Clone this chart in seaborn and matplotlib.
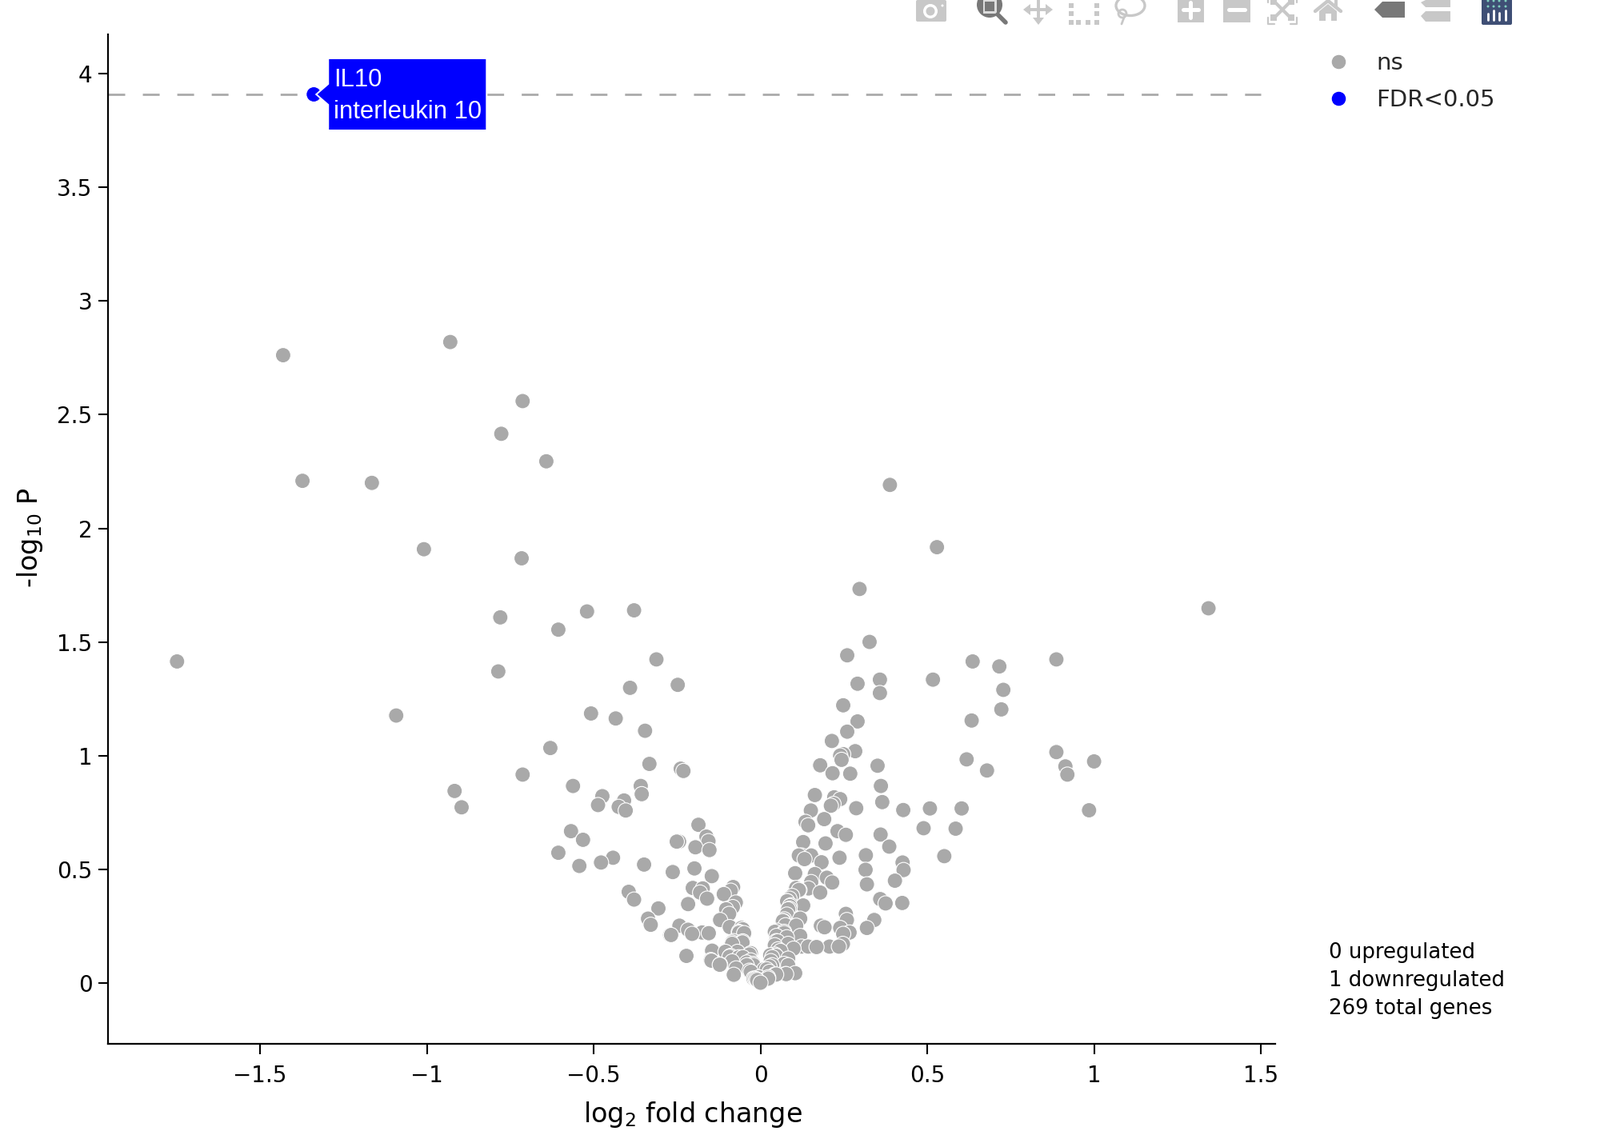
import numpy as np
import pandas as pd
import seaborn as sns
import matplotlib.pyplot as plt
from matplotlib.patches import Polygon, Rectangle, Circle, Ellipse, FancyBboxPatch
from matplotlib.lines import Line2D
from matplotlib.transforms import Affine2D

# values
fc_left = [-1.749, -1.431, -1.373, -1.165, -0.930, -1.009, -1.092, -0.917, -0.896, -0.713,
           -0.777, -0.642, -0.716, -0.780, -0.786, -0.606, -0.520, -0.379, -0.391, -0.312,
           -0.248, -0.508, -0.434, -0.346, -0.630, -0.713, -0.333, -0.239, -0.231, -0.562,
           -0.359, -0.356, -0.474, -0.487, -0.409, -0.425, -0.404, -0.568, -0.532, -0.606,
           -0.442, -0.478, -0.543, -0.349, -0.263, -0.198, -0.146, -0.186, -0.162, -0.156,
           -0.153, -0.195, -0.251, -0.244, -0.395, -0.379, -0.306, -0.337, -0.329, -0.203,
           -0.173, -0.181, -0.160, -0.217, -0.082, -0.089, -0.110, -0.074, -0.083, -0.103,
           -0.094, -0.121, -0.243, -0.217, -0.205, -0.271, -0.268, -0.175, -0.155, -0.092,
           -0.057, -0.064, -0.049, -0.054, -0.085, -0.081, -0.145, -0.105, -0.222, -0.149,
           -0.121, -0.093, -0.085, -0.065, -0.033, -0.029, -0.021, -0.073, -0.080, -0.033,
           -0.021, -0.013, -0.041, -0.005, 0.0]
p_left = [1.414, 2.762, 2.209, 2.200, 2.820, 1.908, 1.176, 0.844, 0.772, 2.560,
          2.416, 2.295, 1.868, 1.608, 1.370, 1.554, 1.634, 1.639, 1.298, 1.423,
          1.311, 1.185, 1.163, 1.109, 1.033, 0.916, 0.963, 0.942, 0.932, 0.866,
          0.866, 0.830, 0.821, 0.782, 0.802, 0.774, 0.758, 0.667, 0.629, 0.572,
          0.550, 0.529, 0.514, 0.520, 0.487, 0.503, 0.469, 0.695, 0.643, 0.623,
          0.584, 0.596, 0.621, 0.621, 0.400, 0.366, 0.327, 0.282, 0.255, 0.417,
          0.415, 0.397, 0.370, 0.346, 0.421, 0.405, 0.390, 0.353, 0.333, 0.323,
          0.303, 0.276, 0.251, 0.233, 0.215, 0.210, 0.210, 0.221, 0.218, 0.245,
          0.241, 0.220, 0.218, 0.177, 0.171, 0.183, 0.141, 0.136, 0.118, 0.100,
          0.080, 0.114, 0.094, 0.112, 0.124, 0.098, 0.077, 0.063, 0.035, 0.053,
          0.018, 0.016, 0.077, 0.024, 0.0]

fc_right = [0.023, 0.047, 0.027, 0.011, 0.077, 0.104, 0.035, 0.083, 0.035, 0.047,
            0.083, 0.053, 0.099, 0.123, 0.143, 0.168, 0.207, 0.235, 0.247, 0.047,
            0.083, 0.119, 0.048, 0.079, 0.051, 0.071, 0.107, 0.075, 0.069, 0.119,
            0.079, 0.083, 0.088, 0.079, 0.095, 0.128, 0.115, 0.107, 0.144, 0.152,
            0.163, 0.104, 0.179, 0.199, 0.215, 0.183, 0.132, 0.123, 0.115, 0.152,
            0.128, 0.195, 0.237, 0.231, 0.256, 0.316, 0.315, 0.319, 0.359, 0.375,
            0.425, 0.341, 0.319, 0.256, 0.259, 0.239, 0.267, 0.248, 0.181, 0.192,
            0.360, 0.386, 0.426, 0.429, 0.403, 0.551, 0.489, 0.428, 0.508, 0.585,
            0.603, 0.365, 0.361, 0.351, 0.287, 0.211, 0.219, 0.239, 0.221, 0.163,
            0.151, 0.135, 0.143, 0.191, 0.179, 0.216, 0.269, 0.243]
p_right = [0.018, 0.036, 0.048, 0.059, 0.038, 0.042, 0.077, 0.077, 0.112, 0.118,
           0.106, 0.147, 0.150, 0.159, 0.159, 0.157, 0.159, 0.159, 0.171, 0.183,
           0.171, 0.206, 0.206, 0.200, 0.229, 0.218, 0.251, 0.253, 0.271, 0.282,
           0.300, 0.323, 0.337, 0.359, 0.382, 0.340, 0.408, 0.417, 0.415, 0.443,
           0.478, 0.482, 0.397, 0.462, 0.441, 0.530, 0.544, 0.560, 0.560, 0.560,
           0.619, 0.613, 0.550, 0.667, 0.651, 0.561, 0.497, 0.433, 0.368, 0.349,
           0.351, 0.276, 0.241, 0.303, 0.276, 0.241, 0.221, 0.215, 0.251, 0.244,
           0.652, 0.599, 0.529, 0.496, 0.449, 0.557, 0.680, 0.760, 0.767, 0.678,
           0.767, 0.795, 0.866, 0.955, 0.768, 0.779, 0.787, 0.808, 0.816, 0.826,
           0.758, 0.708, 0.693, 0.720, 0.957, 0.922, 0.920, 0.981]

fc_top = [0.214, 0.260, 0.291, 0.248, 0.291, 0.260, 0.327, 0.297, 0.388, 0.529,
          1.343, 0.358, 0.358, 0.284, 0.248, 0.239, 0.517, 0.636, 0.716, 0.728,
          0.722, 0.633, 0.618, 0.679, 0.887, 0.887, 0.914, 0.920, 1.000, 0.985]
p_top = [1.064, 1.105, 1.150, 1.221, 1.316, 1.441, 1.500, 1.733, 2.191, 1.917,
         1.648, 1.334, 1.275, 1.019, 1.006, 1.000, 1.334, 1.414, 1.392, 1.289,
         1.203, 1.154, 0.983, 0.934, 1.423, 1.015, 0.952, 0.916, 0.974, 0.759]

# crowded bottom of the V
fc_core = [-0.017, -0.010, 0.023, 0.043, 0.075, 0.019, 0.027, 0.071, 0.029, 0.043,
           0.043, 0.051, 0.043, 0.071, 0.067, 0.071, 0.087, 0.091, 0.080, 0.087,
           0.117, -0.029, -0.041, -0.029, -0.021, -0.090, -0.069, -0.053, -0.122, -0.147,
           -0.065, -0.053, -0.085, -0.053, 0.060, 0.031]
p_core = [0.018, 0.012, 0.024, 0.036, 0.038, 0.059, 0.071, 0.083, 0.121, 0.124,
          0.165, 0.182, 0.224, 0.224, 0.271, 0.279, 0.326, 0.341, 0.359, 0.370,
          0.408, 0.130, 0.089, 0.048, 0.083, 0.118, 0.136, 0.112, 0.079, 0.097,
          0.224, 0.235, 0.177, 0.182, 0.140, 0.095]

fc_sig = [-1.339]
p_sig = [3.91]
fdr_line = 3.91

xticks = [-1.5, -1, -0.5, 0, 0.5, 1, 1.5]
xticklabels = ['\u22121.5', '\u22121', '\u22120.5', '0', '0.5', '1', '1.5']
yticks = [0, 0.5, 1, 1.5, 2, 2.5, 3, 3.5, 4]
yticklabels = ['0', '0.5', '1', '1.5', '2', '2.5', '3', '3.5', '4']

fc_ns = fc_left + fc_right + fc_top + fc_core
p_ns = p_left + p_right + p_top + p_core
df = pd.DataFrame({'log2fc': fc_ns + fc_sig, 'logp': p_ns + p_sig,
                   'status': ['ns'] * len(fc_ns) + ['FDR<0.05'] * len(fc_sig)})
# lower points sit on top in the original
df = df.sort_values('logp', ascending=False)

sns.set_theme(style='ticks')
plt.rcParams['font.family'] = ['DejaVu Sans']

W, H = 2000, 1419
fig = plt.figure(figsize=(W / 100, H / 100), dpi=100)
ax = fig.add_axes([135 / W, 1 - 1305 / H, (1594 - 135) / W, (1305 - 43) / H])

ax.plot([-1.956, 1.5], [fdr_line, fdr_line], color='#aaaaaa', lw=2, dashes=(7.56, 7.94), zorder=1)
sns.scatterplot(data=df, x='log2fc', y='logp', hue='status', hue_order=['ns', 'FDR<0.05'],
                palette={'ns': '#a9a9a9', 'FDR<0.05': '#0000ff'}, s=188,
                edgecolor='white', linewidth=0.8, ax=ax, zorder=3)

ax.set_xlim(-1.956, 1.543)
ax.set_ylim(-0.269, 4.174)
ax.set_xticks(xticks, xticklabels)
ax.set_yticks(yticks, yticklabels)
ax.tick_params(axis='x', length=9, width=1.5, pad=10, labelsize=20, color='black', labelcolor='black')
ax.tick_params(axis='y', length=9, width=1.5, pad=5, labelsize=20, color='black', labelcolor='black')
for s in ['left', 'bottom']:
    ax.spines[s].set_color('black')
    ax.spines[s].set_linewidth(1.6)
sns.despine(ax=ax)
ax.set_xlabel('')
ax.set_ylabel('')

sns.move_legend(ax, 'upper left', bbox_to_anchor=(1644 / W, 1 - 65 / H),
                bbox_transform=fig.transFigure, frameon=False, title=None,
                fontsize=21, labelspacing=0.61, handletextpad=0.61, borderpad=0, borderaxespad=0)
for h in ax.get_legend().legend_handles:
    h.set_markersize(13.5)

# overlay in image pixels for the hover box, text and the toolbar
ov = fig.add_axes([0, 0, 1, 1], facecolor='none', zorder=5)
ov.set_xlim(0, W)
ov.set_ylim(H, 0)
ov.axis('off')

ov.text(866, 1394, r'$\mathregular{log_2}$ fold change', ha='center', va='center', fontsize=24, color='black')
ov.text(37, 672, r'-$\mathregular{log_{10}}$ P', ha='center', va='center', rotation=90, fontsize=24, color='black')
ov.text(1661, 1226, '0 upregulated\n1 downregulated\n269 total genes', ha='left', va='center',
        fontsize=18.7, linespacing=1.43, color='black')

# hover label, anchored on the significant point
px, py = ax.transData.transform((fc_sig[0], p_sig[0]))
off = Affine2D().translate(px, py)
box = [(3, 0), (18, 13), (18, 45), (216, 45), (216, -45), (18, -45), (18, -13)]
ov.add_patch(Polygon(box, closed=True, fc='#0000ff', ec='white', lw=1.4, transform=off, zorder=6))
ov.text(417, 100, 'IL10', family='Liberation Sans', fontsize=22.3, color='white', va='center', zorder=7)
ov.text(417, 140, 'interleukin 10', family='Liberation Sans', fontsize=22.3, color='white', va='center', zorder=7)

# modebar
light = '#c8c8c8'
dark = '#787878'

# camera
ov.add_patch(FancyBboxPatch((1147, 2), 34, 23, boxstyle='round,pad=2', fc=light, ec='none'))
ov.add_patch(Circle((1163, 14), 9, fc='white', ec='none'))
ov.add_patch(Circle((1163, 14), 5.5, fc=light, ec='none'))
ov.add_patch(Circle((1178, 7), 1.5, fc='white', ec='none'))

# zoom
ov.add_patch(Circle((1237, 6), 16, fc=dark, ec='none'))
ov.add_patch(Rectangle((1229, 0), 17, 17, fc='#dcdcdc', ec='none'))
ov.add_patch(Rectangle((1231, 2), 12, 12, fc=dark, ec='none'))
ov.add_line(Line2D([1247, 1257], [18, 28], color=dark, lw=4))

# pan
ov.add_line(Line2D([1284, 1311], [12, 12], color=light, lw=2.8))
ov.add_line(Line2D([1298, 1298], [0, 25], color=light, lw=2.8))
ov.add_patch(Polygon([(1279, 12), (1288, 5), (1288, 19)], fc=light, ec='none'))
ov.add_patch(Polygon([(1316, 12), (1307, 5), (1307, 19)], fc=light, ec='none'))
ov.add_patch(Polygon([(1298, 31), (1291, 22), (1305, 22)], fc=light, ec='none'))

# box select
for bx, by in [(1339, 7), (1339, 17), (1339, 28), (1348, 28), (1360, 28), (1371, 28), (1371, 17), (1371, 7)]:
    ov.add_patch(Rectangle((bx - 3, by - 3), 6, 6, fc=light, ec='none'))

# lasso
ov.add_patch(Ellipse((1413, 7), 36, 25, fc='none', ec=light, lw=2.4))
ov.add_patch(Circle((1403, 17), 5, fc='none', ec=light, lw=2))
ov.add_line(Line2D([1405, 1402], [22, 30], color=light, lw=2))

# zoom in, zoom out
ov.add_patch(Rectangle((1472, 0), 33, 28, fc=light, ec='none'))
ov.add_line(Line2D([1488, 1488], [3, 22], color='white', lw=3.6))
ov.add_line(Line2D([1479, 1498], [12, 12], color='white', lw=3.6))
ov.add_patch(Rectangle((1529, 0), 34, 28, fc=light, ec='none'))
ov.add_line(Line2D([1536, 1556], [12, 12], color='white', lw=3.6))

# autoscale
ov.add_line(Line2D([1585, 1585, 1593], [22, 30, 30], color=light, lw=1.6))
ov.add_line(Line2D([1613, 1621, 1621], [30, 30, 22], color=light, lw=1.6))
ov.add_line(Line2D([1585, 1585], [0, 3], color=light, lw=1.6))
ov.add_line(Line2D([1621, 1621], [0, 3], color=light, lw=1.6))
ov.add_line(Line2D([1594, 1612], [3, 21], color=light, lw=3))
ov.add_line(Line2D([1612, 1594], [3, 21], color=light, lw=3))
for cx, cy in [(1592, 2), (1614, 2), (1592, 22), (1614, 22)]:
    ov.add_patch(Rectangle((cx - 4, cy - 4), 8, 8, fc=light, ec='none'))

# home
ov.add_line(Line2D([1644, 1660, 1676], [14, 1, 14], color=light, lw=3.2))
ov.add_patch(Polygon([(1660, 5), (1649, 14), (1649, 26), (1671, 26), (1671, 14)], fc=light, ec='none'))
ov.add_patch(Rectangle((1657, 17), 7, 9, fc='white', ec='none'))
ov.add_patch(Rectangle((1668, 0), 4, 8, fc=light, ec='none'))

# hover toggles
ov.add_patch(Polygon([(1718, 12), (1728, 2), (1756, 2), (1756, 22), (1728, 22)], fc=dark, ec='none'))
ov.add_patch(Polygon([(1776, 3), (1782, 0), (1813, 0), (1813, 9), (1782, 9)], fc=light, ec='none'))
ov.add_patch(Polygon([(1776, 20), (1782, 14), (1813, 14), (1813, 27), (1782, 27)], fc=light, ec='none'))

# logo
ov.add_patch(FancyBboxPatch((1854, -6), 34, 35, boxstyle='round,pad=2', fc='#3f4f75', ec='none'))
for xb, top in zip([1860, 1867, 1874, 1882], [17, 13, 16, 13]):
    ov.add_line(Line2D([xb, xb], [top, 25], color='white', lw=2))
for xb in [1860, 1867, 1874, 1882]:
    ov.add_patch(Circle((xb, 8), 1.5, fc='#80cfbe', ec='none'))
    ov.add_patch(Circle((xb, 1), 1.5, fc='#80cfbe', ec='none'))

fig.savefig('out.png', dpi=100)
